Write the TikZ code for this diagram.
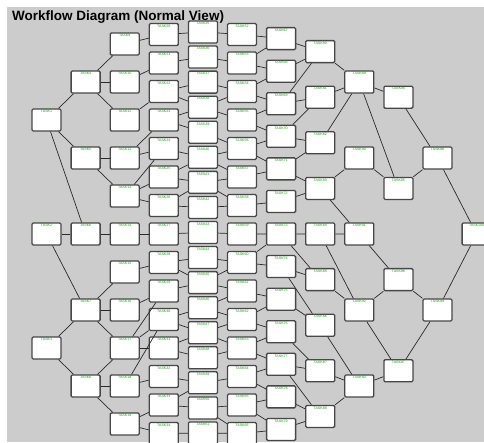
\documentclass[tikz,border=0pt]{standalone}
\usepackage{fontspec}
\setmainfont{Liberation Sans}
\definecolor{bggray}{HTML}{CCCCCC}
\definecolor{boxline}{HTML}{474747}
\definecolor{edgeline}{HTML}{2A2A2A}
\definecolor{labgreen}{HTML}{189818}
\tikzset{
  task/.style={rectangle, minimum width=29pt, minimum height=22pt, inner sep=0pt,
    fill=white, draw=boxline, line width=1.3pt, rounded corners=1.2pt},
  tasklabel/.style={font=\fontsize{3.6}{4}\selectfont, text=labgreen, inner sep=1.7pt, anchor=north},
  conn/.style={draw=edgeline, line width=0.7pt},
  titletext/.style={font=\bfseries\fontsize{13.5}{14}\selectfont, anchor=base west, inner sep=0pt}
}
\begin{document}
\begin{tikzpicture}[x=1pt,y=-1pt]
\useasboundingbox (0,0) rectangle (484,442);
\fill[white] (0,0) rectangle (484,442);
\fill[bggray] (7,7) rectangle (484,442);
% nodes: column / count / numbering offset / first centre / spacing
\foreach \c/\n/\off/\yo/\sp in {0/3/0/120/114, 1/5/3/82/76, 2/11/8/44/38, 3/15/19/34.5/28.5,
    4/17/34/32/25.06, 5/15/51/34.5/28.5, 6/13/66/38.6/32.57, 7/9/79/51.6/45.6,
    8/5/88/82/76, 9/4/93/97.2/91.2, 10/2/97/158/152, 11/1/99/234/0}{
  \foreach \i in {1,...,\n}{
    \pgfmathsetmacro\xx{46.5+39.1*\c}
    \pgfmathsetmacro\yy{\yo+(\i-1)*\sp}
    \pgfmathtruncatemacro\k{\off+\i}
    \node[task, label={[tasklabel]north:TASK\k}] (n\c-\i) at (\xx,\yy) {};
  }
}
% connectors
\foreach \a/\b in {
  0-1/1-1, 0-1/1-2, 0-1/1-3, 0-2/1-3, 0-2/1-4, 0-3/1-4, 0-3/1-5,
  1-1/2-1, 1-1/2-2, 1-1/2-3, 1-2/2-4, 1-2/2-5, 1-3/2-6, 1-4/2-7, 1-4/2-8, 1-4/2-9,
  1-5/2-9, 1-5/2-10, 1-5/2-11,
  2-1/3-1, 2-2/3-2, 2-3/3-3, 2-4/3-4, 2-4/3-5, 2-5/3-5, 2-5/3-6, 2-5/3-7, 2-6/3-8,
  2-7/3-9, 2-8/3-10, 2-9/3-10, 2-9/3-11, 2-9/3-12, 2-10/3-11, 2-10/3-13, 2-11/3-14, 2-11/3-15,
  3-1/4-1, 3-2/4-2, 3-3/4-3, 3-3/4-4, 3-4/4-4, 3-4/4-5, 3-5/4-6, 3-6/4-6, 3-6/4-7,
  3-7/4-7, 3-7/4-8, 3-8/4-9, 3-9/4-10, 3-9/4-11, 3-10/4-11, 3-11/4-12, 3-11/4-13,
  3-12/4-13, 3-12/4-14, 3-13/4-15, 3-14/4-15, 3-14/4-16, 3-15/4-17,
  4-1/5-1, 4-2/5-2, 4-3/5-3, 4-4/5-3, 4-4/5-4, 4-5/5-5, 4-6/5-5, 4-6/5-6, 4-7/5-6,
  4-7/5-7, 4-8/5-7, 4-9/5-8, 4-10/5-9, 4-11/5-9, 4-11/5-10, 4-12/5-10, 4-12/5-11,
  4-13/5-11, 4-13/5-12, 4-14/5-12, 4-15/5-13, 4-16/5-14, 4-16/5-15, 4-17/5-15,
  5-1/6-1, 5-2/6-1, 5-2/6-2, 5-3/6-2, 5-3/6-3, 5-4/6-3, 5-4/6-4, 5-5/6-4, 5-5/6-5,
  5-6/6-5, 5-7/6-6, 5-8/6-7, 5-9/6-7, 5-9/6-8, 5-10/6-9, 5-11/6-9, 5-11/6-10,
  5-12/6-10, 5-12/6-11, 5-13/6-11, 5-13/6-12, 5-14/6-12, 5-14/6-13, 5-15/6-13,
  6-1/7-1, 6-2/7-1, 6-3/7-1, 6-3/7-2, 6-4/7-2, 6-4/7-3, 6-5/7-3, 6-5/7-4, 6-6/7-4,
  6-7/7-5, 6-7/7-6, 6-8/7-6, 6-8/7-7, 6-9/7-7, 6-10/7-8, 6-11/7-8, 6-11/7-9,
  6-12/7-9, 6-13/7-9,
  7-1/8-1, 7-2/8-1, 7-3/8-1, 7-4/8-2, 7-4/8-3, 7-5/8-3, 7-5/8-4, 7-6/8-4,
  7-7/8-5, 7-8/8-5, 7-9/8-5,
  8-1/9-1, 8-1/9-2, 8-2/9-2, 8-3/9-3, 8-4/9-3, 8-4/9-4, 8-5/9-4,
  9-1/10-1, 9-2/10-1, 9-3/10-2, 9-4/10-2,
  10-1/11-1, 10-2/11-1}{
  \draw[conn] (n\a) -- (n\b);
}
\node[titletext] (title) at (12,20.5) {Workflow Diagram (Normal View)};
\end{tikzpicture}
\end{document}
